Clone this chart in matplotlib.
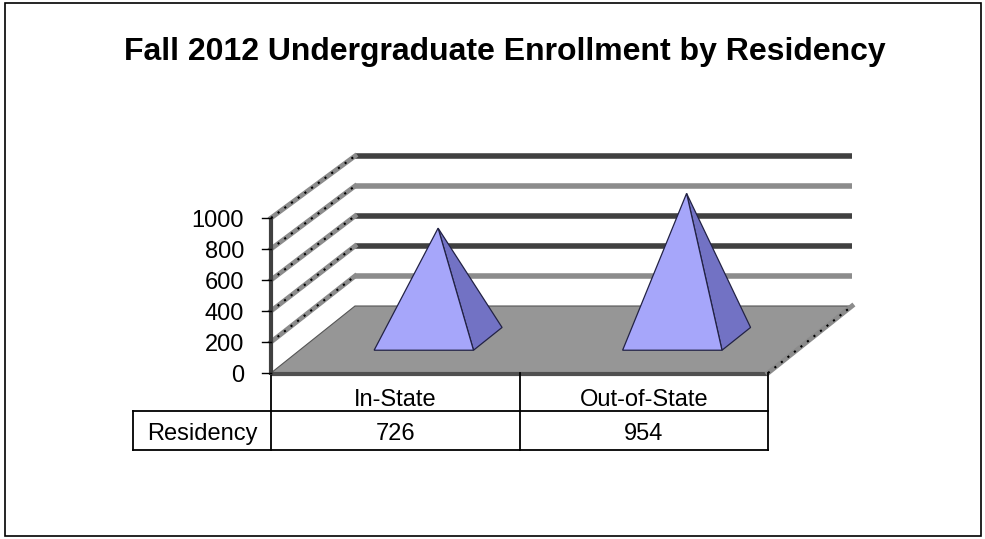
"""Fall 2012 undergraduate enrollment by residency: 3-D pyramid chart with data table."""

import matplotlib.pyplot as plt
from matplotlib.patches import Polygon, Rectangle

categories = ["In-State", "Out-of-State"]
enrollment = [726, 954]
series_name = "Residency"
y_ticks = [0, 200, 400, 600, 800, 1000]

# wall gridline shades, bottom to top
wall_shades = ["#8c8c8c", "#404040", "#404040", "#8c8c8c", "#404040"]

W, H = 985, 539
X0, Y0 = 271, 373          # front-left floor corner
DX, DY = 84, -67           # full depth offset
CAT_W = 248.5              # width of one category slot
FONT = "Liberation Sans"
FS = 17


def proj(u, d, v):
    """Oblique projection: u category units, d depth 0..1, v value."""
    s = 0.155 - 0.005 * d
    return (X0 + u * CAT_W + d * DX, Y0 + d * DY - v * s)


fig = plt.figure(figsize=(W / 100, H / 100), dpi=100)
ax = fig.add_axes([0, 0, 1, 1])
ax.set_xlim(0, W)
ax.set_ylim(H, 0)
ax.axis("off")

ax.add_patch(Rectangle((5, 3), 976, 533, fill=False, ec="black", lw=1.2))
ax.text(504.5, 60, "Fall 2012 Undergraduate Enrollment by Residency",
        ha="center", va="baseline", fontsize=23, fontweight="bold", family=FONT)

n = len(categories)

# floor
floor = [proj(0, 0, 0), proj(n, 0, 0), proj(n, 1, 0), proj(0, 1, 0)]
ax.add_patch(Polygon(floor, closed=True, fc="#969696", ec="#555555", lw=0.8, zorder=1))
ax.plot([proj(0, 0, 0)[0], proj(n, 0, 0)[0]], [Y0 + 1, Y0 + 1],
        color="#505050", lw=3, solid_capstyle="butt", zorder=2)
rx = [proj(n, 0, 0)[0], proj(n, 1, 0)[0]]
ry = [proj(n, 0, 0)[1], proj(n, 1, 0)[1]]
ax.plot(rx, ry, color="#8c8c8c", lw=3.5, zorder=2)
ax.plot(rx, ry, color="black", lw=1.5, ls=(0, (1, 3)), zorder=2)

# back wall and side wall gridlines
for v, shade in zip(y_ticks[1:], wall_shades):
    bx0, by0 = proj(0, 1, v)
    bx1, by1 = proj(n, 1, v)
    ax.plot([bx0, bx1], [by0, by1], color=shade, lw=4, solid_capstyle="butt", zorder=1)
    fx, fy = proj(0, 0, v)
    ax.plot([fx, bx0], [fy, by0], color="#8c8c8c", lw=3.5, zorder=1)
    ax.plot([fx, bx0], [fy, by0], color="black", lw=1.5, ls=(0, (1, 3)), zorder=1)

# value axis
top = proj(0, 0, y_ticks[-1])
ax.plot([X0, X0], [Y0 + 2, top[1]], color="#404040", lw=3, solid_capstyle="butt", zorder=3)
for v in y_ticks:
    tx, ty = proj(0, 0, v)
    ax.plot([tx - 9, tx], [ty, ty], color="black", lw=1, zorder=3)
    ax.text(tx - 27, ty + 9, str(v), ha="right", va="baseline", fontsize=FS,
            family=FONT)

# pyramids
half, d0, d1 = 0.2, 0.34, 0.68
dm = (d0 + d1) / 2
for i, val in enumerate(enrollment):
    u = i + 0.5
    fl = proj(u - half, d0, 0)
    fr = proj(u + half, d0, 0)
    br = proj(u + half, d1, 0)
    apex = proj(u, dm, val)
    ax.add_patch(Polygon([fr, br, apex], closed=True, fc="#7272c4", ec="#222244",
                         lw=0.9, zorder=4))
    ax.add_patch(Polygon([fl, fr, apex], closed=True, fc="#a6a6fa", ec="#222244",
                         lw=0.9, zorder=5))

# data table
row1, row2, row3 = Y0, 411, 450
left = 133
cols = [proj(k, 0, 0)[0] for k in range(n + 1)]
for c in cols:
    ax.plot([c, c], [row1, row3], color="black", lw=1.3)
ax.plot([left, cols[-1]], [row2, row2], color="black", lw=1.3)
ax.plot([left, cols[-1]], [row3, row3], color="black", lw=1.3)
ax.plot([left, left], [row2, row3], color="black", lw=1.3)
for k, (cat, val) in enumerate(zip(categories, enrollment)):
    cx = (cols[k] + cols[k + 1]) / 2
    ax.text(cx, 406, cat, ha="center", va="baseline", fontsize=FS, family=FONT)
    ax.text(cx, 440, str(val), ha="center", va="baseline", fontsize=FS, family=FONT)
ax.text((left + cols[0]) / 2, 440, series_name, ha="center", va="baseline",
        fontsize=FS, family=FONT)

fig.savefig("out.png", dpi=100)
